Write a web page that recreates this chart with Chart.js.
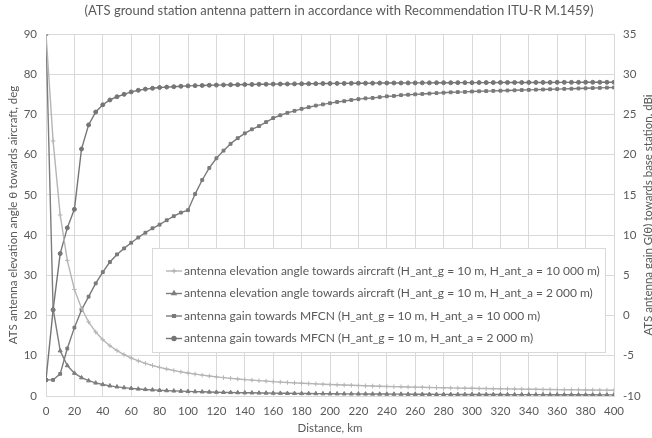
<!DOCTYPE html>
<html>
<head>
<meta charset="utf-8">
<script src="https://cdn.jsdelivr.net/npm/chart.js@4.4.1/dist/chart.umd.min.js"></script>
<style>
  html, body { margin: 0; padding: 0; background: #fff; }
  #wrap { width: 652px; height: 438px; }
</style>
</head>
<body>
<div id="wrap"><canvas id="pattern-chart" width="652" height="438"></canvas></div>
<script>
// distances, km (one point every 5 km)
const distanceKm = [
  0, 5, 10, 15, 20, 25, 30, 35, 40, 45,
  50, 55, 60, 65, 70, 75, 80, 85, 90, 95,
  100, 105, 110, 115, 120, 125, 130, 135, 140, 145,
  150, 155, 160, 165, 170, 175, 180, 185, 190, 195,
  200, 205, 210, 215, 220, 225, 230, 235, 240, 245,
  250, 255, 260, 265, 270, 275, 280, 285, 290, 295,
  300, 305, 310, 315, 320, 325, 330, 335, 340, 345,
  350, 355, 360, 365, 370, 375, 380, 385, 390, 395,
  400
];

// elevation angle towards aircraft, deg (left axis)
const elev10000 = [
  90, 63.4, 45.0, 33.7, 26.5, 21.8, 18.4, 15.9, 14.0, 12.5,
  11.3, 10.3, 9.45, 8.74, 8.12, 7.59, 7.12, 6.70, 6.33, 6.00,
  5.71, 5.44, 5.19, 4.97, 4.76, 4.57, 4.39, 4.23, 4.08, 3.94,
  3.81, 3.69, 3.57, 3.46, 3.36, 3.27, 3.18, 3.09, 3.01, 2.93,
  2.86, 2.79, 2.72, 2.66, 2.60, 2.54, 2.49, 2.43, 2.38, 2.33,
  2.29, 2.24, 2.20, 2.16, 2.12, 2.08, 2.04, 2.01, 1.97, 1.94,
  1.91, 1.88, 1.85, 1.82, 1.79, 1.76, 1.73, 1.71, 1.68, 1.66,
  1.63, 1.61, 1.59, 1.57, 1.55, 1.53, 1.51, 1.49, 1.47, 1.45,
  1.43
];
const elev2000 = [
  90, 21.7, 11.25, 7.56, 5.68, 4.55, 3.80, 3.25, 2.85, 2.53,
  2.28, 2.07, 1.90, 1.75, 1.63, 1.52, 1.42, 1.34, 1.27, 1.20,
  1.14, 1.09, 1.04, 0.99, 0.95, 0.91, 0.88, 0.84, 0.81, 0.79,
  0.76, 0.74, 0.71, 0.69, 0.67, 0.65, 0.63, 0.62, 0.60, 0.58,
  0.57, 0.56, 0.54, 0.53, 0.52, 0.51, 0.50, 0.49, 0.48, 0.47,
  0.46, 0.45, 0.44, 0.43, 0.42, 0.41, 0.41, 0.40, 0.39, 0.39,
  0.38, 0.37, 0.37, 0.36, 0.36, 0.35, 0.35, 0.34, 0.34, 0.33,
  0.33, 0.32, 0.32, 0.31, 0.31, 0.30, 0.30, 0.30, 0.29, 0.29,
  0.29
];

// antenna gain towards MFCN, dBi (right axis)
const gain10000 = [
  -8, -8, -7.25, -4.1, -1.5, 0.7, 2.35, 4.0, 5.4, 6.65,
  7.6, 8.35, 9.05, 9.7, 10.3, 10.85, 11.3, 11.85, 12.35, 12.8,
  13.1, 15.1, 16.85, 18.35, 19.55, 20.5, 21.35, 22.05, 22.65, 23.15,
  23.55, 24.05, 24.55, 24.9, 25.2, 25.45, 25.7, 25.9, 26.1, 26.25,
  26.4, 26.55, 26.65, 26.8, 26.9, 27.0, 27.05, 27.15, 27.25, 27.3,
  27.4, 27.45, 27.5, 27.55, 27.6, 27.65, 27.7, 27.75, 27.78, 27.8,
  27.85, 27.88, 27.9, 27.93, 27.95, 27.98, 28.0, 28.03, 28.05, 28.08,
  28.1, 28.13, 28.15, 28.18, 28.2, 28.23, 28.25, 28.28, 28.3, 28.33,
  28.35
];
const gain2000 = [
  -8, 0.7, 7.7, 10.9, 13.2, 20.7, 23.7, 25.3, 26.2, 26.8,
  27.2, 27.5, 27.8, 28.0, 28.15, 28.25, 28.35, 28.4, 28.45, 28.5,
  28.55, 28.58, 28.6, 28.63, 28.65, 28.67, 28.69, 28.7, 28.72, 28.73,
  28.75, 28.76, 28.77, 28.78, 28.79, 28.8, 28.81, 28.82, 28.83, 28.84,
  28.85, 28.86, 28.86, 28.87, 28.88, 28.88, 28.89, 28.9, 28.9, 28.91,
  28.91, 28.92, 28.92, 28.93, 28.93, 28.94, 28.94, 28.94, 28.95, 28.95,
  28.95, 28.96, 28.96, 28.96, 28.97, 28.97, 28.97, 28.97, 28.98, 28.98,
  28.98, 28.98, 28.99, 28.99, 28.99, 28.99, 29.0, 29.0, 29.0, 29.0,
  29.0
];

const seriesNames = [
  'antenna elevation angle towards aircraft (H_ant_g = 10 m, H_ant_a = 10 000 m)',
  'antenna elevation angle towards aircraft (H_ant_g = 10 m, H_ant_a = 2 000 m)',
  'antenna gain towards MFCN (H_ant_g = 10 m, H_ant_a = 10 000 m)',
  'antenna gain towards MFCN (H_ant_g = 10 m, H_ant_a = 2 000 m)'
];

const chartTitle = '(ATS ground station antenna pattern in accordance with Recommendation ITU-R M.1459)';
const xTitle = 'Distance, km';
const yLeftTitle = 'ATS antenna elevation angle θ towards aircraft, deg';
const yRightTitle = 'ATS antenna gain G(θ) towards base station, dBi';

const FONT = 'Lato';
const TEXT = '#595959';
const GRID = '#d9d9d9';

function pts(arr) {
  return distanceKm.map((d, i) => ({ x: d, y: arr[i] }));
}

function mkSet(label, arr, axis, color, style, r) {
  return {
    label: label,
    data: pts(arr),
    yAxisID: axis,
    borderColor: color,
    backgroundColor: color,
    borderWidth: 1.4,
    pointStyle: style,
    pointRadius: r,
    pointBorderWidth: 1,
    pointHoverRadius: r,
    tension: 0
  };
}

// legend box drawn inside the plot, plus the Excel-style axis titles
const overlay = {
  id: 'overlay',
  afterDraw(chart) {
    const ctx = chart.ctx;
    const area = chart.chartArea;
    ctx.save();

    // main title
    ctx.fillStyle = TEXT;
    ctx.font = `13px ${FONT}`;
    ctx.textAlign = 'center';
    ctx.textBaseline = 'middle';
    ctx.fillText(chartTitle, 339, 11);

    // x title
    ctx.font = `11.5px ${FONT}`;
    ctx.fillText(xTitle, (area.left + area.right) / 2, 428);

    // left title
    const midY = (area.top + area.bottom) / 2;
    ctx.save();
    ctx.translate(13, midY);
    ctx.rotate(-Math.PI / 2);
    ctx.fillText(yLeftTitle, 0, 0);
    ctx.restore();

    // right title (reads bottom to top, clipped by the page edge)
    ctx.save();
    ctx.translate(648, midY);
    ctx.rotate(-Math.PI / 2);
    ctx.fillText(yRightTitle, 0, 0);
    ctx.restore();

    // legend
    const bx = 152, by = 248, bw = 453, bh = 104;
    ctx.fillStyle = '#fff';
    ctx.fillRect(bx, by, bw, bh);
    ctx.strokeStyle = GRID;
    ctx.lineWidth = 1;
    ctx.strokeRect(bx + 0.5, by + 0.5, bw, bh);

    ctx.font = `12px ${FONT}`;
    ctx.textAlign = 'left';
    chart.data.datasets.forEach((ds, i) => {
      const y = by + 23 + i * 22.5;
      ctx.strokeStyle = ds.borderColor;
      ctx.fillStyle = ds.backgroundColor;
      ctx.lineWidth = 1.4;
      ctx.beginPath();
      ctx.moveTo(166, y);
      ctx.lineTo(182, y);
      ctx.stroke();
      Chart.helpers.drawPoint(ctx, {
        pointStyle: ds.pointStyle,
        radius: ds.pointRadius,
        borderWidth: 1,
        rotation: 0
      }, 174, y);
      ctx.fillStyle = TEXT;
      ctx.fillText(ds.label, 184, y);
    });

    ctx.restore();
  }
};

new Chart(document.getElementById('pattern-chart'), {
  type: 'line',
  data: {
    datasets: [
      mkSet(seriesNames[0], elev10000, 'y', '#b5b5b5', 'cross', 2.3),
      mkSet(seriesNames[1], elev2000, 'y', '#7d7d7d', 'triangle', 2.3),
      mkSet(seriesNames[2], gain10000, 'y1', '#7a7a7a', 'rect', 2),
      mkSet(seriesNames[3], gain2000, 'y1', '#757575', 'circle', 2)
    ]
  },
  options: {
    responsive: false,
    animation: false,
    devicePixelRatio: 1,
    layout: { padding: { top: 34, left: 0, right: 0, bottom: 0 } },
    plugins: {
      legend: { display: false },
      title: { display: false },
      tooltip: { enabled: false }
    },
    scales: {
      x: {
        type: 'linear',
        min: 0, max: 400,
        border: { color: GRID },
        grid: { color: GRID, drawTicks: false },
        ticks: { stepSize: 20, color: TEXT, font: { family: FONT, size: 11.5 }, padding: 8, maxRotation: 0, autoSkip: false },
        afterFit(scale) { scale.height = 42; }
      },
      y: {
        position: 'left',
        min: 0, max: 90,
        border: { display: false },
        grid: { color: GRID, drawTicks: false },
        ticks: { stepSize: 10, color: TEXT, font: { family: FONT, size: 11.5 }, padding: 9 },
        afterFit(scale) { scale.width = 46; }
      },
      y1: {
        position: 'right',
        min: -10, max: 35,
        border: { display: false },
        grid: { drawOnChartArea: false, drawTicks: false },
        ticks: { stepSize: 5, color: TEXT, font: { family: FONT, size: 11.5 }, padding: 9 },
        afterFit(scale) { scale.width = 38; }
      }
    }
  },
  plugins: [overlay]
});
</script>
</body>
</html>
